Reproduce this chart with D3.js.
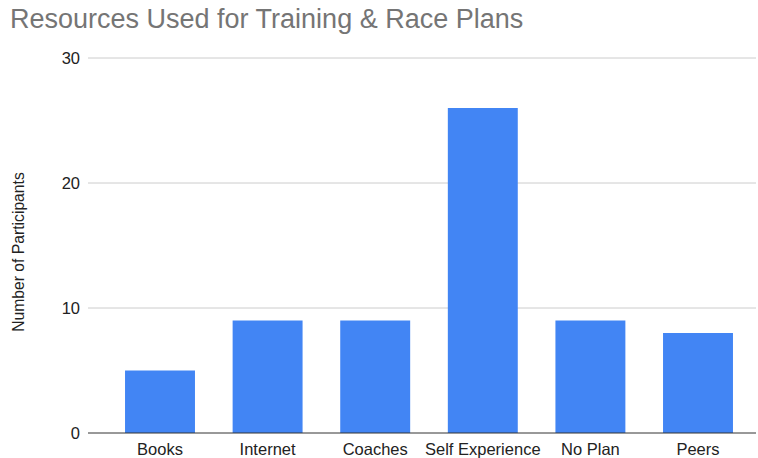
<!DOCTYPE html>
<html><head><meta charset="utf-8">
<script src="https://cdn.jsdelivr.net/npm/d3@7"></script>
<style>body{margin:0;background:#fff;}text{font-family:"Liberation Sans",Arial,sans-serif;}</style>
</head><body>
<svg id="c" width="758" height="458"></svg>
<script>
const categories = ["Books","Internet","Coaches","Self Experience","No Plan","Peers"];
const values = [5, 9, 9, 26, 9, 8];
const yTicks = [0, 10, 20, 30];
const title = "Resources Used for Training & Race Plans";
const yLabel = "Number of Participants";

const svg = d3.select("#c");
const gridLeft = 88, gridRight = 756;
const x = d3.scaleBand().domain(categories).range([106.2, 751.8]).paddingInner(0.35).paddingOuter(0.175);
const y = d3.scaleLinear().domain([0, 30]).range([433, 58]);

svg.append("text").attr("x", 10).attr("y", 28).attr("font-size", 27).attr("fill", "#757575").text(title);

svg.append("g").selectAll("line").data(yTicks.filter(d => d !== 0)).join("line")
  .attr("x1", gridLeft).attr("x2", gridRight)
  .attr("y1", d => y(d)).attr("y2", d => y(d))
  .attr("stroke", "#cccccc").attr("stroke-width", 1);

svg.append("g").selectAll("text").data(yTicks).join("text")
  .attr("x", 80).attr("y", d => y(d)).attr("dy", "0.35em")
  .attr("text-anchor", "end").attr("font-size", 16.5).attr("fill", "#222")
  .text(d => d);

svg.append("text").attr("transform", "translate(24,252) rotate(-90)")
  .attr("text-anchor", "middle").attr("font-size", 15.7).attr("fill", "#222").text(yLabel);

svg.append("g").selectAll("rect").data(values).join("rect")
  .attr("x", (d, i) => x(categories[i]))
  .attr("width", x.bandwidth())
  .attr("y", d => y(d))
  .attr("height", d => y(0) - y(d))
  .attr("fill", "#4285f4");

svg.append("line").attr("x1", gridLeft).attr("x2", gridRight)
  .attr("y1", y(0)).attr("y2", y(0)).attr("stroke", "#333").attr("stroke-width", 1);

svg.append("g").selectAll("text").data(categories).join("text")
  .attr("x", d => x(d) + x.bandwidth() / 2).attr("y", 455)
  .attr("text-anchor", "middle").attr("font-size", 16.5).attr("fill", "#222")
  .text(d => d);
</script>
</body></html>
